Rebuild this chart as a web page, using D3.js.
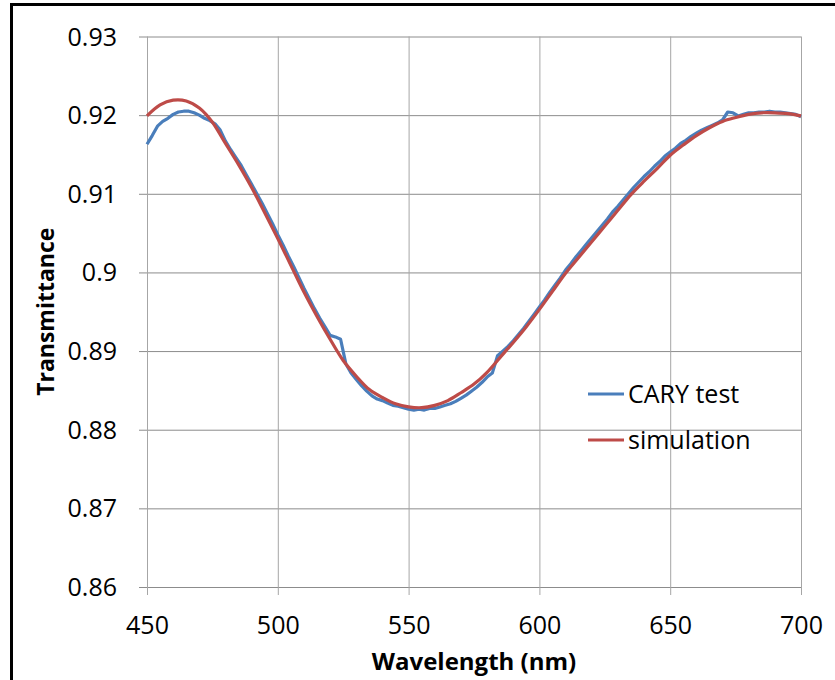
<!DOCTYPE html>
<html>
<head>
<meta charset="utf-8">
<script src="https://cdn.jsdelivr.net/npm/d3@7"></script>
<style>
  html, body { margin: 0; padding: 0; background: #fff; }
  #viz { width: 835px; height: 680px; }
  text { font-family: "Open Sans", Lato, sans-serif; fill: #000; }
</style>
</head>
<body>
<div id="viz"></div>
<script>
// simulation, 5 nm step
const simWavelength = d3.range(450, 701, 5);
const simValues = [
    0.9199, 0.9213, 0.9219, 0.9218, 0.9209, 0.9191, 0.9164, 0.9137, 0.9108, 0.9076,
    0.9043, 0.9009, 0.8975, 0.8944, 0.8915, 0.8888, 0.8868, 0.8851, 0.8841, 0.8833,
    0.8829, 0.8828, 0.8831, 0.8837, 0.8847, 0.8858, 0.8873, 0.8892, 0.8911, 0.8931,
    0.8953, 0.8976, 0.8999, 0.9019, 0.9039, 0.9059, 0.9079, 0.9099, 0.9116, 0.9132,
    0.9149, 0.9162, 0.9174, 0.9184, 0.9192, 0.9197, 0.9201, 0.9203, 0.9203, 0.9202,
    0.9199,
];

// CARY measurement, 2 nm step
const caryWavelength = d3.range(450, 701, 2);
const caryValues = [
    0.9163, 0.9174, 0.9186, 0.9192, 0.9196, 0.9201, 0.9204, 0.9205, 0.9205, 0.9203,
    0.9200, 0.9196, 0.9193, 0.9189, 0.9181, 0.9167, 0.9156, 0.9146, 0.9136, 0.9124,
    0.9112, 0.9100, 0.9088, 0.9075, 0.9062, 0.9048, 0.9035, 0.9021, 0.9008, 0.8994,
    0.8980, 0.8967, 0.8954, 0.8942, 0.8931, 0.8920, 0.8918, 0.8915, 0.8884, 0.8872,
    0.8864, 0.8856, 0.8849, 0.8843, 0.8839, 0.8837, 0.8834, 0.8831, 0.8830, 0.8828,
    0.8826, 0.8825, 0.8826, 0.8825, 0.8827, 0.8827, 0.8829, 0.8831, 0.8833, 0.8836,
    0.8840, 0.8844, 0.8849, 0.8854, 0.8860, 0.8867, 0.8872, 0.8894, 0.8900, 0.8906,
    0.8913, 0.8921, 0.8929, 0.8938, 0.8947, 0.8956, 0.8965, 0.8975, 0.8984, 0.8993,
    0.9003, 0.9011, 0.9020, 0.9028, 0.9036, 0.9044, 0.9052, 0.9060, 0.9068, 0.9077,
    0.9084, 0.9092, 0.9100, 0.9108, 0.9115, 0.9122, 0.9128, 0.9135, 0.9141, 0.9148,
    0.9153, 0.9158, 0.9164, 0.9168, 0.9173, 0.9177, 0.9181, 0.9184, 0.9187, 0.9190,
    0.9194, 0.9204, 0.9203, 0.9199, 0.9201, 0.9203, 0.9203, 0.9204, 0.9204, 0.9205,
    0.9204, 0.9204, 0.9203, 0.9202, 0.9201, 0.9198,
];

const xTicks = [450, 500, 550, 600, 650, 700];
const yTicks = [0.86, 0.87, 0.88, 0.89, 0.90, 0.91, 0.92, 0.93];
const yTickLabels = ['0.86', '0.87', '0.88', '0.89', '0.9', '0.91', '0.92', '0.93'];
const seriesNames = ['CARY test', 'simulation'];
const seriesColors = ['#4a7ebb', '#be4b48'];

const svg = d3
    .select('#viz')
    .append('svg')
    .attr('width', 835)
    .attr('height', 680);

// outer frame (right and bottom edges fall outside the picture)
svg.append('rect')
    .attr('x', 11.5)
    .attr('y', 4.5)
    .attr('width', 900)
    .attr('height', 900)
    .attr('fill', 'none')
    .attr('stroke', '#000')
    .attr('stroke-width', 3);

const margin = { left: 147, top: 36.5, right: 835 - 801, bottom: 680 - 587 };
const width = 835 - margin.left - margin.right;
const height = 680 - margin.top - margin.bottom;

const xScale = d3.scaleLinear().domain([450, 700]).range([0, width]);
const yScale = d3.scaleLinear().domain([0.86, 0.93]).range([height, 0]);

const g = svg.append('g').attr('transform', `translate(${margin.left},${margin.top})`);

// horizontal gridlines + y ticks
const yAxis = g.append('g')
    .call(d3.axisLeft(yScale).tickValues(yTicks).tickSizeInner(-width).tickSizeOuter(0)
        .tickFormat((d, i) => yTickLabels[i]));
yAxis.select('.domain').remove();
yAxis.selectAll('.tick line').attr('x1', -8).attr('stroke', '#8c8c8c');
yAxis.selectAll('.tick text')
    .attr('x', -30)
    .attr('dy', '0.34em')
    .attr('font-size', 25)
    .attr('font-family', '"Open Sans", sans-serif');

// vertical gridlines + x ticks
const xAxis = g.append('g')
    .attr('transform', `translate(0,${height})`)
    .call(d3.axisBottom(xScale).tickValues(xTicks).tickSizeInner(-height).tickSizeOuter(0));
xAxis.select('.domain').remove();
xAxis.selectAll('.tick line').attr('y1', 8).attr('stroke', '#a6a6a6');
xAxis.selectAll('.tick text')
    .attr('y', 29)
    .attr('dy', '0.71em')
    .attr('font-size', 25)
    .attr('font-family', '"Open Sans", sans-serif');

// lines
const line = d3.line()
    .x((d) => xScale(d[0]))
    .y((d) => yScale(d[1]));

const caryData = caryWavelength.map((w, i) => [w, caryValues[i]]);
const simData = simWavelength.map((w, i) => [w, simValues[i]]);

g.append('path')
    .datum(caryData)
    .attr('d', line.curve(d3.curveLinear))
    .attr('fill', 'none')
    .attr('stroke', seriesColors[0])
    .attr('stroke-width', 3.2)
    .attr('stroke-linejoin', 'round');

g.append('path')
    .datum(simData)
    .attr('d', line.curve(d3.curveCatmullRom))
    .attr('fill', 'none')
    .attr('stroke', seriesColors[1])
    .attr('stroke-width', 3.2);

// legend
const legend = svg.append('g').attr('transform', 'translate(588,394)');
legend.selectAll('g')
    .data(seriesNames)
    .join('g')
    .attr('transform', (d, i) => `translate(0,${i * 46})`)
    .each(function (d, i) {
        const item = d3.select(this);
        item.append('line')
            .attr('x1', 0).attr('x2', 36)
            .attr('stroke', seriesColors[i])
            .attr('stroke-width', 3.2);
        item.append('text')
            .attr('x', 40)
            .attr('dy', '0.35em')
            .attr('font-size', 25)
            .text(d);
    });

// axis titles
svg.append('text')
    .attr('x', margin.left + width / 2)
    .attr('y', 670)
    .attr('text-anchor', 'middle')
    .attr('font-size', 24)
    .attr('font-weight', 'bold')
    .text('Wavelength (nm)');

svg.append('text')
    .attr('transform', `translate(54,${margin.top + height / 2}) rotate(-90)`)
    .attr('text-anchor', 'middle')
    .attr('font-size', 23)
    .attr('font-weight', 'bold')
    .text('Transmittance');
</script>
</body>
</html>
